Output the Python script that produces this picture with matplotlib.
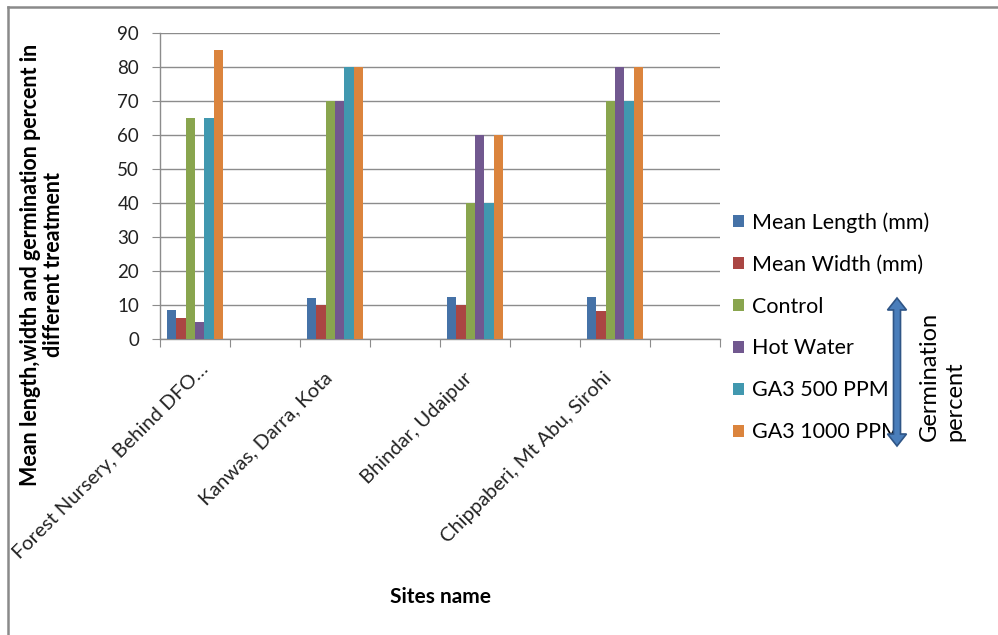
import numpy as np
import matplotlib.pyplot as plt
from matplotlib.lines import Line2D
from matplotlib.patches import Polygon
from matplotlib.transforms import ScaledTranslation

plt.rcParams['font.family'] = ['Lato', 'DejaVu Sans']

nan = np.nan
sites = ["Forest Nursery, Behind DFO…", "", "Kanwas, Darra, Kota", "",
         "Bhindar, Udaipur", "", "Chippaberi, Mt Abu, Sirohi", ""]
mean_length = [8.6, nan, 12.2, nan, 12.5, nan, 12.5, nan]
mean_width = [6.3, nan, 10.1, nan, 10.0, nan, 8.3, nan]
control = [65, nan, 70, nan, 40, nan, 70, nan]
hot_water = [5, nan, 70, nan, 60, nan, 80, nan]
ga3_500 = [65, nan, 80, nan, 40, nan, 70, nan]
ga3_1000 = [85, nan, 80, nan, 60, nan, 80, nan]

series = [
    ("Mean Length (mm)", mean_length, "#4572A7"),
    ("Mean Width (mm)", mean_width, "#AA4643"),
    ("Control", control, "#89A54E"),
    ("Hot Water", hot_water, "#71588F"),
    ("GA3 500 PPM", ga3_500, "#4198AF"),
    ("GA3 1000 PPM", ga3_1000, "#DB843D"),
]

W, H = 998, 635
fig = plt.figure(figsize=(W / 100, H / 100), dpi=100)
ax = fig.add_axes([160 / W, 1 - 339 / H, 560 / W, 306 / H])

x = np.arange(len(sites))
bw = 1 / 7.5
for i, (name, vals, col) in enumerate(series):
    ax.bar(x + (i - 2.5) * bw, vals, width=bw, color=col, label=name, zorder=3)

ax.set_xlim(-0.5, len(sites) - 0.5)
ax.set_ylim(0, 90)
ax.set_yticks(range(0, 91, 10))
ax.yaxis.grid(True, color="#8c8c8c", lw=1.0, zorder=0)
for s in ("top", "right"):
    ax.spines[s].set_visible(False)
for s in ("left", "bottom"):
    ax.spines[s].set_color("#8c8c8c")
    ax.spines[s].set_linewidth(1.0)

# slot boundaries carry the tick marks, labels sit at slot centres
ax.set_xticks(np.arange(len(sites) + 1) - 0.5)
ax.set_xticklabels([])
ax.set_xticks(x, minor=True)
ax.set_xticklabels(sites, minor=True, rotation=45, ha="right",
                   fontsize=14.5, color="#222222")
ax.tick_params(axis="x", which="major", length=6, color="#8c8c8c", direction="out")
ax.tick_params(axis="x", which="minor", length=0, pad=22)
ax.tick_params(axis="y", length=6, color="#8c8c8c", labelsize=13.5, pad=9,
               labelcolor="#222222")

# the long first label is nudged right so it stays inside the frame
first = ax.get_xticklabels(minor=True)[0]
first.set_transform(first.get_transform() +
                    ScaledTranslation(17 / 100, 9 / 100, fig.dpi_scale_trans))

ax.set_ylabel("Mean length,width and germination percent in\ndifferent treatment",
              fontsize=15.5, fontweight="bold", labelpad=0, linespacing=1.1)
ax.yaxis.set_label_coords(-96 / 560, 0.242)
fig.text(440 / W, 1 - 597 / H, "Sites name", fontsize=15, fontweight="bold",
         ha="center", va="center")

ax.legend(loc="upper left", bbox_to_anchor=(733 / W, 1 - 212 / H),
          bbox_transform=fig.transFigure, frameon=False, fontsize=15.5,
          handlelength=0.5, handleheight=0.5, handletextpad=0.37,
          labelspacing=1.02, borderaxespad=0, borderpad=0)

# double headed arrow marking the germination series
cx, top, bot = 897, 298, 446
hw, sw, hl = 9.5, 3.5, 12
pts = [(cx, top), (cx + hw, top + hl), (cx + sw, top + hl), (cx + sw, bot - hl),
       (cx + hw, bot - hl), (cx, bot), (cx - hw, bot - hl), (cx - sw, bot - hl),
       (cx - sw, top + hl), (cx - hw, top + hl)]
fig.patches.append(Polygon([(px / W, 1 - py / H) for px, py in pts], closed=True,
                           transform=fig.transFigure, facecolor="#4A7EBB",
                           edgecolor="#2F5586", lw=1.2))
fig.text(919 / W, 1 - 441 / H, "Germination\npercent", rotation=90,
         fontsize=17, ha="left", va="bottom", multialignment="left",
         linespacing=1.25)

# outer chart frame
fig.lines.append(Line2D([8 / W, 1], [1 - 6.5 / H] * 2, transform=fig.transFigure,
                        color="#8a8a8a", lw=1.8))
fig.lines.append(Line2D([8 / W, 8 / W], [0, 1 - 6.5 / H], transform=fig.transFigure,
                        color="#8a8a8a", lw=1.8))

fig.savefig("out.png", dpi=100)
